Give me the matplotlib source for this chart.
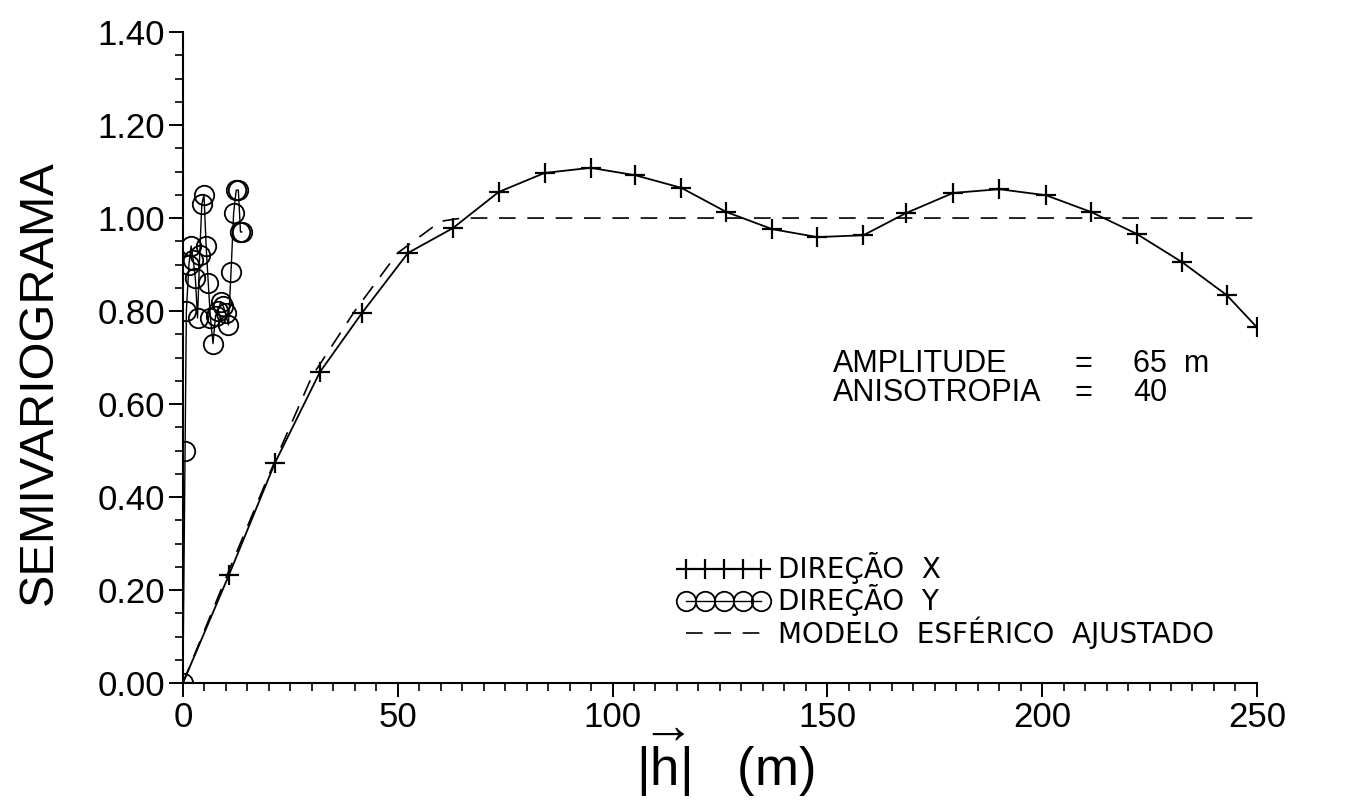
import matplotlib
matplotlib.use("Agg")
import matplotlib.pyplot as plt
from matplotlib.ticker import MultipleLocator, FormatStrFormatter

plt.rcParams['font.family'] = ['Liberation Sans', 'DejaVu Sans']
plt.rcParams['mathtext.fontset'] = 'custom'
plt.rcParams['mathtext.rm'] = 'Liberation Sans'
plt.rcParams['mathtext.it'] = 'Liberation Sans'

# direcao X (lag ~10.6 m)
lag_x = [0, 10.7, 21.4, 31.9, 41.7, 52.4, 62.8, 73.5, 84.2, 94.9, 105.3, 116.0,
         126.5, 137.2, 147.7, 158.4, 168.4, 179.3, 190.0, 200.9, 211.4, 222.0,
         232.6, 243.0, 250.0]
gamma_x = [0.0, 0.232, 0.473, 0.669, 0.796, 0.925, 0.978, 1.056, 1.097, 1.108,
           1.092, 1.065, 1.013, 0.976, 0.959, 0.963, 1.011, 1.054, 1.062, 1.049,
           1.013, 0.966, 0.905, 0.834, 0.765]

# direcao Y (lag curto)
lag_y = [0.0, 0.5, 0.8, 1.4, 1.9, 2.4, 2.9, 3.4, 3.9, 4.4, 4.9, 5.4, 5.9,
         6.4, 7.0, 7.6, 8.2, 8.8, 9.4, 10.0, 10.6, 11.2, 11.8, 12.4, 12.9,
         13.4, 13.7]
gamma_y = [0.0, 0.50, 0.80, 0.90, 0.94, 0.91, 0.87, 0.785, 0.92, 1.03,
           1.05, 0.94, 0.86, 0.785, 0.73, 0.79, 0.80, 0.82, 0.81, 0.795,
           0.77, 0.885, 1.01, 1.06, 1.06, 0.97, 0.97]

# modelo esferico ajustado
lag_m = [0, 10, 20, 30, 40, 50, 60, 65, 250]
gamma_m = [0.0, 0.226, 0.447, 0.659, 0.80, 0.925, 0.993, 1.0, 1.0]

# textos
info_labels = ['AMPLITUDE', 'ANISOTROPIA']
info_values = ['65  m', '40']

fig = plt.figure(figsize=(13.55, 8.01), dpi=100)
ax = fig.add_axes([0.135, 0.1473, 0.7926, 0.8127])

ax.plot(lag_m, gamma_m, color='black', lw=1.2, ls=(0, (10, 7)),
        label='MODELO  ESFÉRICO  AJUSTADO', zorder=2)
ax.plot(lag_x, gamma_x, color='black', lw=1.3, marker='+', ms=14, mew=1.6,
        label='DIREÇÃO  X', zorder=3)
ax.plot(lag_y, gamma_y, color='black', lw=1.0, marker='o', ms=14, mew=1.3,
        mfc='none', label='DIREÇÃO  Y', zorder=3)

ax.set_xlim(0, 250)
ax.set_ylim(0, 1.40)
for s in ('top', 'right'):
    ax.spines[s].set_visible(False)
ax.spines['left'].set_linewidth(1.5)
ax.spines['bottom'].set_linewidth(1.5)

ax.xaxis.set_major_locator(MultipleLocator(50))
ax.xaxis.set_minor_locator(MultipleLocator(5))
ax.yaxis.set_major_locator(MultipleLocator(0.2))
ax.yaxis.set_minor_locator(MultipleLocator(0.05))
ax.yaxis.set_major_formatter(FormatStrFormatter('%.2f'))
ax.tick_params(which='major', direction='out', length=10, width=1.4,
               labelsize=25, pad=3)
ax.tick_params(which='minor', direction='out', length=6, width=1.2)

ax.set_ylabel('SEMIVARIOGRAMA', fontsize=35)
ax.yaxis.set_label_coords(-0.113, 0.462)
ax.set_xlabel(r'$|\overrightarrow{\mathrm{h}}|$   (m)', fontsize=38)
ax.xaxis.set_label_coords(0.505, -0.066)

for i, (lab, val) in enumerate(zip(info_labels, info_values)):
    yy = 0.49 - i * 0.045
    ax.text(0.605, yy, lab, transform=ax.transAxes, fontsize=22, va='center')
    ax.text(0.8305, yy, '=', transform=ax.transAxes, fontsize=22, va='center')
    ax.text(0.8845, yy, val, transform=ax.transAxes, fontsize=22, va='center')

h, l = ax.get_legend_handles_labels()
order = [1, 2, 0]
ax.legend([h[i] for i in order], [l[i] for i in order], loc='upper left',
          bbox_to_anchor=(0.448, 0.222), frameon=False, numpoints=5,
          handlelength=3.3, handletextpad=0.3, labelspacing=0.0,
          borderpad=0, prop={'family': 'DejaVu Sans', 'size': 20})

fig.savefig('out.png', dpi=100)
